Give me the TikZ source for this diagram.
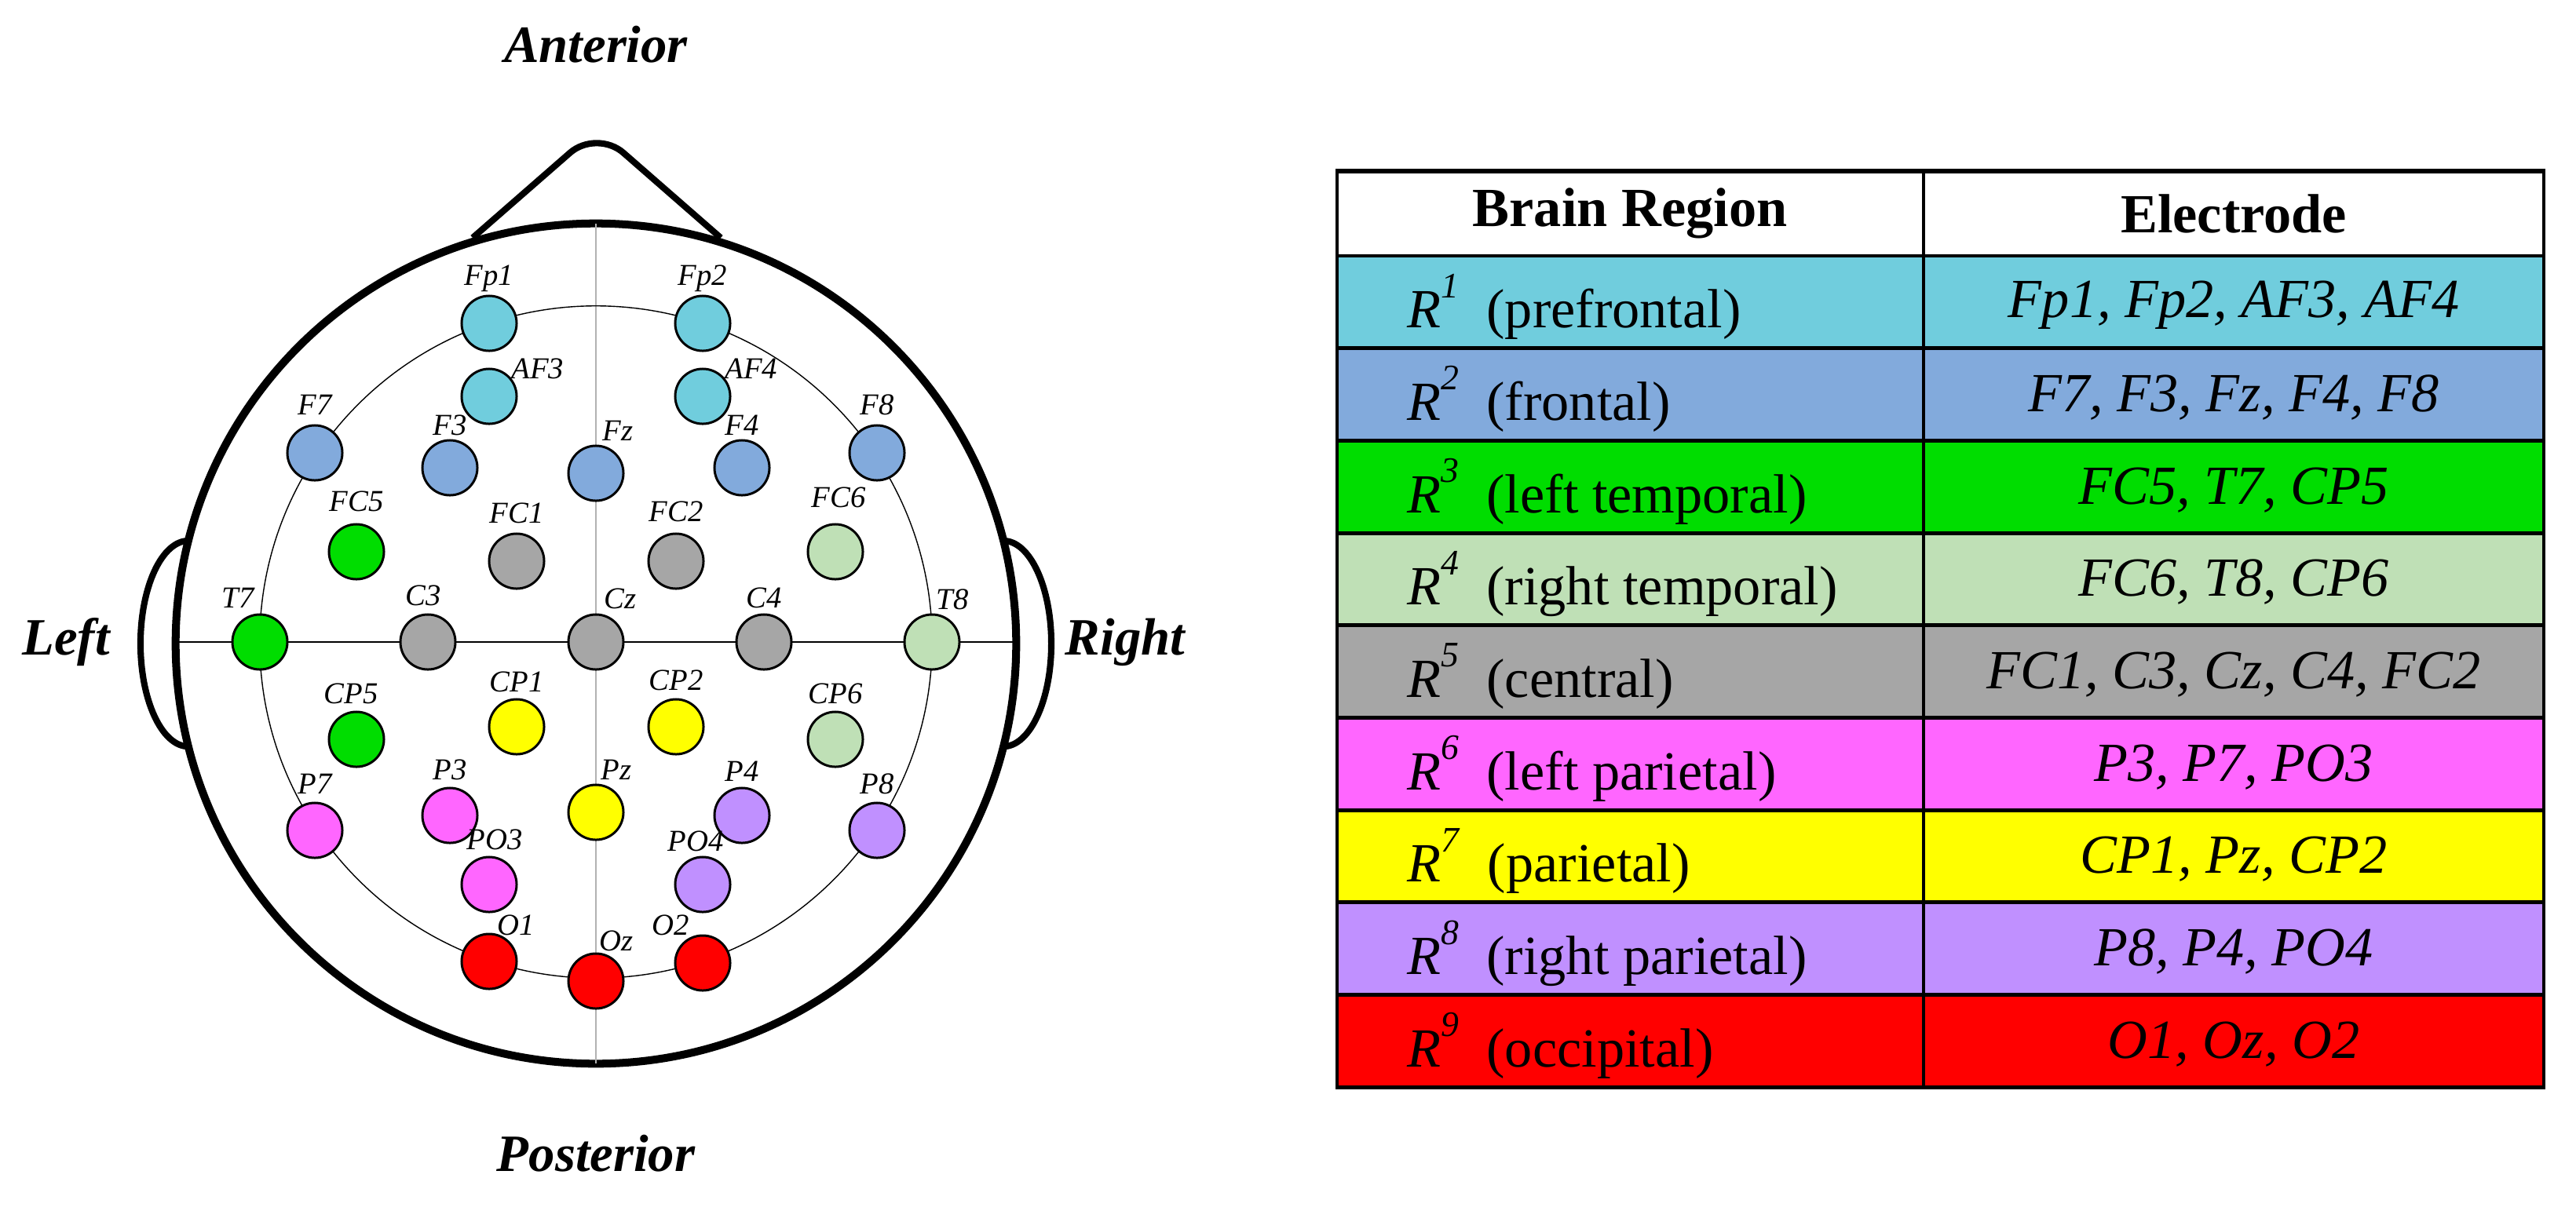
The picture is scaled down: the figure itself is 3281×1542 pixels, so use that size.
\documentclass[tikz,border=0pt]{standalone}
\usepackage{fontspec}
\setmainfont{Liberation Serif}
\definecolor{ccy}{HTML}{70CDDD}
\definecolor{cbl}{HTML}{82AADC}
\definecolor{cgr}{HTML}{00DD00}
\definecolor{clg}{HTML}{BFE0B6}
\definecolor{cgy}{HTML}{A6A6A6}
\definecolor{cmg}{HTML}{FF66FF}
\definecolor{cye}{HTML}{FFFF00}
\definecolor{cpu}{HTML}{C090FF}
\definecolor{cre}{HTML}{FF0000}
\begin{document}
\begin{tikzpicture}[x=0.01cm,y=-0.01cm,
  elec/.style={circle,draw=black,line width=0.85pt,inner sep=0pt,minimum size=0.70cm},
  elab/.style={font=\fontsize{11}{13}\selectfont\itshape,inner sep=0pt},
  side/.style={font=\fontsize{19}{22}\selectfont\bfseries\itshape},
  cell/.style={font=\fontsize{20}{24}\selectfont},
  tline/.style={line width=1.4pt}]
\useasboundingbox (0,0) rectangle (3281,1542);
% head
\draw[line width=2.85pt] (759,820) circle[radius=5.35cm];
\draw[line width=2.3pt, rounded corners=0.45cm] (602,303) -- (760,165) -- (918,303);
\draw[line width=2.3pt] (240,689) arc[start angle=90,end angle=270,x radius=0.61cm,y radius=1.31cm];
\draw[line width=2.3pt] (1278,689) arc[start angle=90,end angle=-90,x radius=0.61cm,y radius=1.31cm];
\draw[line width=0.6pt, gray!60] (759,285) -- (759,1355);
\draw[line width=0.6pt] (227,818) -- (1294,818);
\draw[line width=0.4pt] (759,818) circle[radius=4.28cm];
\node[side] (ant) at (759,57) {Anterior};
\node[side] (pos) at (759,1470) {Posterior};
\node[side] (lft) at (84,818) {Left};
\node[side] (rgt) at (1433,818) {Right};
\foreach \n/\x/\y/\c/\dx/\dy in {
 Fp1/623/412/ccy/0/-57, Fp2/895/412/ccy/0/-57,
 AF3/623/505/ccy/62/-35, AF4/895/505/ccy/62/-35,
 F7/401/577/cbl/0/-61, F3/573/596/cbl/0/-54, Fz/759/603/cbl/28/-54, F4/945/596/cbl/0/-54, F8/1117/577/cbl/0/-61,
 FC5/454/703/cgr/0/-64, FC1/658/715/cgy/0/-61, FC2/861/715/cgy/0/-63, FC6/1064/703/clg/4/-69,
 T7/331/818/cgr/-28/-56, C3/545/818/cgy/-6/-59, Cz/759/818/cgy/31/-55, C4/973/818/cgy/0/-56, T8/1187/818/clg/26/-54,
 CP5/454/942/cgr/-7/-58, CP1/658/926/cye/0/-57, CP2/861/926/cye/0/-59, CP6/1064/942/clg/0/-58,
 P7/401/1058/cmg/0/-59, P3/573/1039/cmg/0/-58, Pz/759/1035/cye/26/-54, P4/945/1039/cpu/0/-56, P8/1117/1058/cpu/0/-59,
 PO3/623/1127/cmg/7/-57, PO4/895/1127/cpu/-9/-55,
 O1/623/1225/cre/34/-46, Oz/759/1250/cre/26/-51, O2/895/1227/cre/-41/-48}
 {
  \node[elec,fill=\c] (e\n) at (\x,\y) {};
  \node[elab] (l\n) at ({\x+\dx},{\y+\dy}) {\n};
 }
% table
\def\rh{117.7}
\fill[white] (1703,218) rectangle (3240,326);
\foreach \i/\c in {0/ccy,1/cbl,2/cgr,3/clg,4/cgy,5/cmg,6/cye,7/cpu,8/cre}
  \fill[\c] (1703,{326+\i*\rh}) rectangle (3240,{326+(\i+1)*\rh});
\draw[line width=1.7pt] (1701,218) -- (3242,218);
\foreach \i in {0,...,9} \draw[tline] (1701,{326+\i*\rh}) -- (3242,{326+\i*\rh});
\draw[tline] (1703,218) -- (1703,1385);
\draw[tline] (2450,218) -- (2450,1385);
\draw[tline] (3240,218) -- (3240,1385);
\node[cell,font=\fontsize{20}{24}\selectfont\bfseries] (h1) at (2076,272) {Brain Region};
\node[cell,font=\fontsize{20}{24}\selectfont\bfseries] (h2) at (2845,272) {Electrode};
\foreach \i/\r/\e in {1/prefrontal/{Fp1, Fp2, AF3, AF4},2/frontal/{F7, F3, Fz, F4, F8},3/left temporal/{FC5, T7, CP5},4/right temporal/{FC6, T8, CP6},5/central/{FC1, C3, Cz, C4, FC2},6/left parietal/{P3, P7, PO3},7/parietal/{CP1, Pz, CP2},8/right parietal/{P8, P4, PO4},9/occipital/{O1, Oz, O2}}
 {
  \node[cell,anchor=west] (r\i) at (1780,{326+(\i-0.5)*\rh+6}) {\textit{R}\raisebox{0.55em}{\fontsize{13}{14}\selectfont\textit{\i}}\ \ (\r)};
  \node[cell] (c\i) at (2845,{326+(\i-0.5)*\rh+4}) {\textit{\e}};
 }
\end{tikzpicture}
\end{document}
